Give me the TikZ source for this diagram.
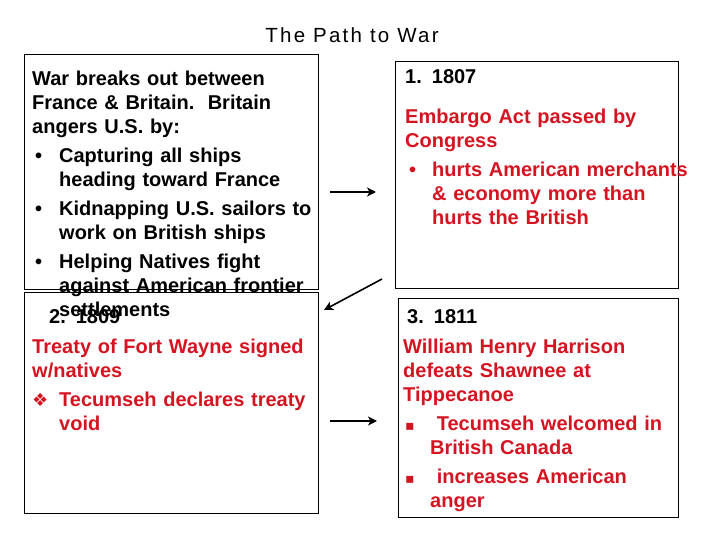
\documentclass[tikz,border=0pt]{standalone}
\usepackage{fontspec}
\setmainfont{Liberation Sans}
\newfontfamily\symfont{DejaVu Sans}
\newfontfamily\titlefont[LetterSpace=11]{Liberation Sans}
\usetikzlibrary{arrows.meta}
\definecolor{warred}{RGB}{212,20,32}
% bullet paragraph: offset, symbol, text
\newcommand{\bitem}[3][3pt]{\par\vspace{5pt}\hangindent=27pt\hangafter=1\noindent\makebox[27pt][l]{\hspace*{#1}#2}#3\par}

\begin{document}
\begin{tikzpicture}
		[x=1pt, y=-1pt,
		box/.style={draw, line width=0.8pt, anchor=north west, inner sep=0pt},
		txt/.style={anchor=base west, inner sep=0pt, text width=320pt, align=left,
			font=\fontsize{20pt}{24pt}\selectfont\bfseries},
		arr/.style={-{Stealth[length=9pt, width=9pt, inset=2.5pt]}, line width=1.6pt}]
		\useasboundingbox (0,0) rectangle (720,540);
		\node[anchor=base, inner sep=0pt, font=\fontsize{20.5pt}{24pt}\titlefont] (title) at (352,43) {The Path to War};
		\node[box, minimum width=294pt, minimum height=235pt] (0) at (24,54) {};
		\node[box, minimum width=294pt, minimum height=221pt] (2) at (24,292) {};
		\node[box, minimum width=283pt, minimum height=227pt] (1) at (395,61) {};
		\node[box, minimum width=280pt, minimum height=219pt] (3) at (398,298) {};
		
		\node[txt] (0a) at ([shift={(8,32)}]0.north west) {\noindent War breaks out between\newline France \& Britain.\ \ Britain\newline angers U.S. by:
			\bitem{•}{Capturing all ships\newline heading toward France}
			\bitem{•}{Kidnapping U.S. sailors to\newline work on British ships}
			\bitem{•}{Helping Natives fight\newline against American frontier\newline settlements}};
		\node[txt] (2a) at ([shift={(8,31)}]2.north west) {\noindent\hspace*{17pt}2. 1809\par\vspace{6pt}\color{warred}\noindent Treaty of Fort Wayne signed\newline w/natives
			\bitem[0pt]{{\symfont\fontsize{18pt}{18pt}\selectfont ❖}}{Tecumseh declares treaty\newline void}};
		\node[txt] (1a) at ([shift={(10,23)}]1.north west) {\noindent 1. 1807\par\vspace{16pt}\color{warred}\noindent Embargo Act passed by\newline Congress
			\bitem[4pt]{•}{hurts American merchants\newline \& economy more than\newline hurts the British}};
		\node[txt] (3a) at ([shift={(5,25)}]3.north west) {\noindent\hspace*{4pt}3. 1811\par\vspace{6pt}\color{warred}\noindent William Henry Harrison\newline defeats Shawnee at\newline Tippecanoe
			\bitem[2pt]{{\symfont\fontsize{14pt}{14pt}\selectfont ▪}}{\ Tecumseh welcomed in\newline British Canada}
			\bitem[2pt]{{\symfont\fontsize{14pt}{14pt}\selectfont ▪}}{\ increases American\newline anger}};
		
		\coordinate (a1) at (330,192);
		\coordinate (b1) at (376,192);
		\coordinate (a2) at (382,279);
		\coordinate (b2) at (324,310);
		\coordinate (a3) at (330,421);
		\coordinate (b3) at (377,421);
		\draw[arr] (a1) -- (b1);
		\draw[arr] (a2) -- (b2);
		\draw[arr] (a3) -- (b3);
		\end{tikzpicture}
\end{document}
